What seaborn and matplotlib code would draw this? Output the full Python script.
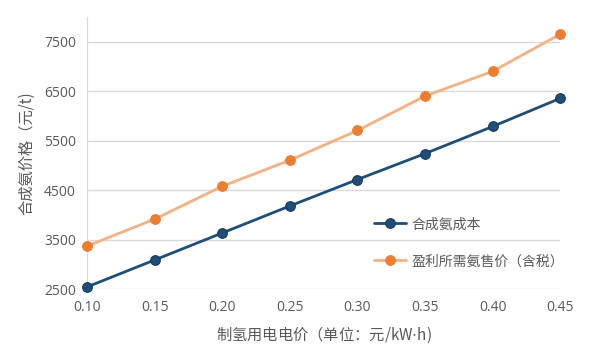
import matplotlib
matplotlib.use('Agg')
import matplotlib.pyplot as plt
import seaborn as sns
import pandas as pd

price = [0.10, 0.15, 0.20, 0.25, 0.30, 0.35, 0.40, 0.45]
cost = [2545, 3090, 3636, 4182, 4717, 5241, 5789, 6359]
sale = [3370, 3915, 4581, 5107, 5708, 6405, 6904, 7655]
yticks = [2500, 3500, 4500, 5500, 6500, 7500]

sns.set_style('white')
plt.rcParams['font.family'] = ['Noto Sans CJK SC', 'DejaVu Sans']

df = pd.DataFrame({'price': price, 'cost': cost, 'sale': sale})

fig = plt.figure(figsize=(6.15, 3.57), dpi=100)
ax = fig.add_axes([0.1415, 0.19, 0.911 - 0.1415, 0.952 - 0.19])

sns.lineplot(data=df, x='price', y='cost', ax=ax, color='#1F4E79', linewidth=2,
             marker='o', markersize=7, markerfacecolor='#1F4E79', markeredgecolor='#16385a',
             label='合成氨成本', clip_on=False, zorder=4)
sns.lineplot(data=df, x='price', y='sale', ax=ax, color='#F4B183', linewidth=2,
             marker='o', markersize=7, markerfacecolor='#ED7D31', markeredgecolor='#ED7D31',
             label='盈利所需氨售价（含税）', clip_on=False, zorder=3)

ax.set_xlim(0.10, 0.45)
ax.set_ylim(2500, 8000)
ax.set_yticks(yticks)
ax.set_xticks(price)
ax.set_xticklabels([f'{p:.2f}' for p in price])
ax.grid(axis='y', color='#d9d9d9', linewidth=1)
ax.grid(axis='x', visible=False)
for s in ['top', 'right', 'bottom']:
    ax.spines[s].set_visible(False)
ax.spines['left'].set_color('#d9d9d9')
ax.tick_params(axis='both', length=0, labelsize=10, colors='#595959', pad=8)
for lab in ax.get_xticklabels() + ax.get_yticklabels():
    lab.set_family(['Open Sans', 'DejaVu Sans'])

ax.set_xlabel('制氢用电电价（单位：元/kW$\\cdot$h)', fontsize=11, color='#595959', labelpad=7)
ax.set_ylabel('合成氨价格（元/t)', fontsize=11, color='#595959', labelpad=6)

ax.legend(loc='upper left', bbox_to_anchor=(0.58, 0.31), frameon=False, fontsize=10,
          labelcolor='#595959', labelspacing=1.65, handlelength=2.3, handletextpad=0.4)

fig.savefig('out.png', dpi=100)
